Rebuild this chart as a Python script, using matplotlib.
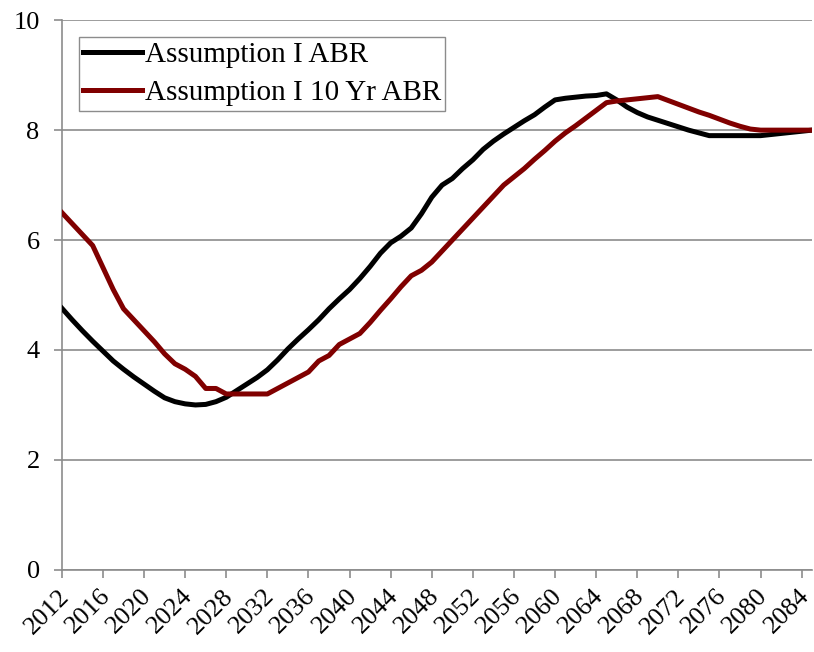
import matplotlib
matplotlib.use("Agg")
import matplotlib.pyplot as plt
import matplotlib.transforms as mtransforms
import numpy as np

plt.rcParams['font.family'] = ['Liberation Serif', 'DejaVu Serif']

# years 2012..2085
years = np.arange(2012, 2086)

abr = [4.76, 4.55, 4.35, 4.16, 3.98, 3.80, 3.65, 3.51, 3.38, 3.25,
       3.13, 3.06, 3.02, 3.00, 3.01, 3.06, 3.14, 3.26, 3.38, 3.50,
       3.64, 3.82, 4.02, 4.20, 4.37, 4.55, 4.75, 4.93, 5.10, 5.30,
       5.52, 5.76, 5.95, 6.07, 6.22, 6.48, 6.78, 7.00, 7.12, 7.30,
       7.46, 7.65, 7.80, 7.93, 8.05, 8.17, 8.28, 8.42, 8.55, 8.58,
       8.60, 8.62, 8.63, 8.66, 8.55, 8.42, 8.32, 8.24, 8.18, 8.12,
       8.06, 8.00, 7.95, 7.90, 7.90, 7.90, 7.90, 7.90, 7.90, 7.92,
       7.94, 7.96, 7.98, 8.00]

abr10 = [6.50, 6.30, 6.10, 5.90, 5.50, 5.10, 4.75, 4.55, 4.35, 4.15,
         3.93, 3.75, 3.65, 3.52, 3.30, 3.30, 3.20, 3.20, 3.20, 3.20,
         3.20, 3.30, 3.40, 3.50, 3.60, 3.80, 3.90, 4.10, 4.20, 4.30,
         4.50, 4.72, 4.93, 5.15, 5.35, 5.45, 5.60, 5.80, 6.00, 6.20,
         6.40, 6.60, 6.80, 7.00, 7.15, 7.30, 7.47, 7.63, 7.80, 7.95,
         8.08, 8.22, 8.36, 8.50, 8.53, 8.55, 8.57, 8.59, 8.61, 8.54,
         8.47, 8.40, 8.33, 8.27, 8.20, 8.13, 8.07, 8.02, 8.00, 8.00,
         8.00, 8.00, 8.00, 8.00]

tick_years = np.arange(2012, 2085, 4)

fig = plt.figure(figsize=(8.14, 6.52), dpi=100)
ax = fig.add_axes([0.076, 0.126, 0.9215, 0.843])

ax.plot(years, abr, color='black', lw=3.6, label='Assumption I ABR', zorder=3)
ax.plot(years, abr10, color='#800000', lw=3.6, label='Assumption I 10 Yr ABR', zorder=3)

ax.set_xlim(2012, 2085)
ax.set_ylim(0, 10)
ax.set_yticks([0, 2, 4, 6, 8, 10])
ax.set_xticks(tick_years)
ax.set_xticklabels([str(y) for y in tick_years], rotation=45, ha='right',
                   rotation_mode='anchor')
ax.tick_params(axis='both', labelsize=19, color='#8c8c8c', length=6, width=1.2)
ax.tick_params(axis='x', pad=5)
ax.tick_params(axis='y', pad=10)
# nudge the rotated year labels a little left so 2084 stays inside
shift = mtransforms.ScaledTranslation(-4 / 100, 0, fig.dpi_scale_trans)
for lab in ax.get_xticklabels():
    lab.set_transform(lab.get_transform() + shift)
ax.grid(axis='y', color='#8c8c8c', lw=1.2)
ax.set_axisbelow(True)
for s in ['top', 'right']:
    ax.spines[s].set_visible(False)
for s in ['left', 'bottom']:
    ax.spines[s].set_color('#8c8c8c')
    ax.spines[s].set_linewidth(1.2)

leg = ax.legend(loc='upper left', bbox_to_anchor=(0.023, 0.969), fontsize=21,
                fancybox=False, framealpha=1, edgecolor='#8c8c8c',
                handlelength=2.0, handletextpad=0.1, borderpad=0.15,
                labelspacing=0.4, borderaxespad=0)
leg.get_frame().set_linewidth(1.0)

fig.savefig('out.png', dpi=100)
